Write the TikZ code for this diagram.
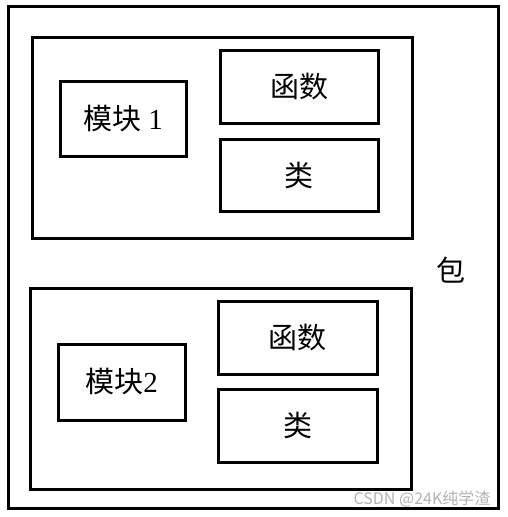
\documentclass[tikz,border=0pt]{standalone}
\usepackage{fontspec}
\setmainfont{Liberation Serif}
\newfontfamily\cjk{Noto Sans CJK SC}
\usetikzlibrary{positioning}

\begin{document}
\begin{tikzpicture}[x=1pt, y=-1pt,
    box/.style={draw, line width=3pt, inner sep=0pt, font=\fontsize{29}{32}\selectfont}]
                        \useasboundingbox (0,0) rectangle (507,517);
                        % package frame
                        \node[box, minimum width=490pt, minimum height=502pt] (pkg) at (253, 257) {};
                        \node[font=\fontsize{29}{32}\selectfont\cjk] (pkgl) at (451, 270) {包};

                        % module 1
                        \node[box, minimum width=380pt, minimum height=201pt] (m1) at (222, 137.5) {};
                        \node[box, minimum width=126pt, minimum height=75pt] (mod1) at (123, 118.5) {{\cjk 模块} 1};
                        \node[box, minimum width=158pt, minimum height=73pt] (f1) at (299, 86.5) {\cjk 函数};
                        \node[box, minimum width=158pt, minimum height=72pt] (c1) at (299, 175) {\cjk 类};

                        % module 2
                        \node[box, minimum width=381pt, minimum height=201pt] (m2) at (220.5, 388.5) {};
                        \node[box, minimum width=127pt, minimum height=76pt] (mod2) at (121.5, 382) {{\cjk 模块}2};
                        \node[box, minimum width=159pt, minimum height=73pt] (f2) at (297.5, 337.5) {\cjk 函数};
                        \node[box, minimum width=159pt, minimum height=73pt] (c2) at (297.5, 425.5) {\cjk 类};

                        \node[text=gray!60, font=\fontsize{16}{18}\selectfont\cjk] (wm) at (422, 499) {CSDN @24K纯学渣};
                    \end{tikzpicture}
\end{document}
